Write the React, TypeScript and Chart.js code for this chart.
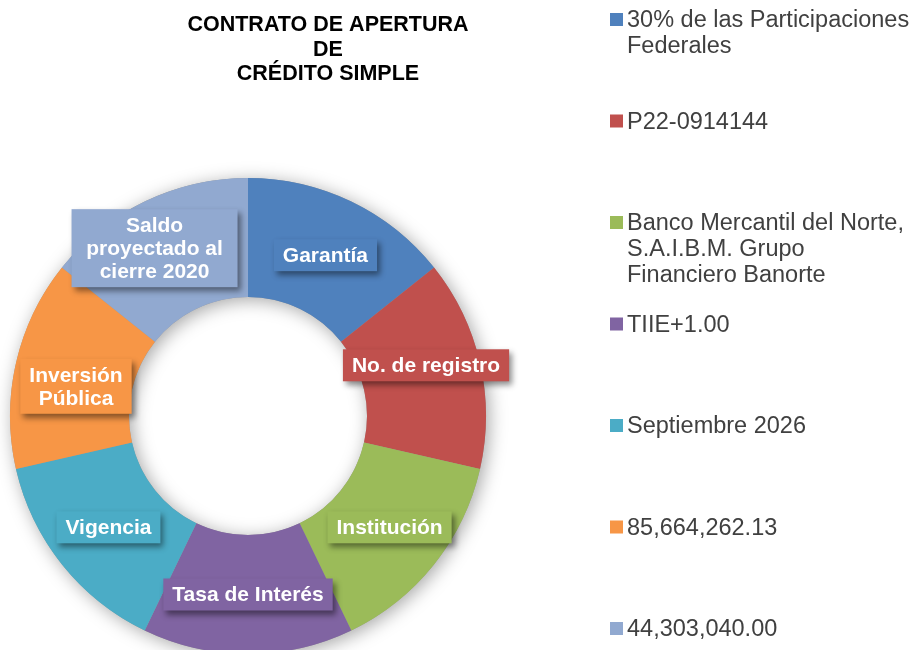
import React, { useEffect, useRef } from "react";
import { Chart, registerables } from "chart.js";

Chart.register(...registerables);

const titleLines = ["CONTRATO DE APERTURA", "DE", "CRÉDITO SIMPLE"];
const sliceLabels: string[][] = [
  ["Garantía"],
  ["No. de registro"],
  ["Institución"],
  ["Tasa de Interés"],
  ["Vigencia"],
  ["Inversión", "Pública"],
  ["Saldo", "proyectado al", "cierre 2020"],
];
const legendTexts: string[][] = [
  ["30% de las Participaciones", "Federales"],
  ["P22-0914144"],
  ["Banco Mercantil del Norte,", "S.A.I.B.M. Grupo", "Financiero Banorte"],
  ["TIIE+1.00"],
  ["Septiembre 2026"],
  ["85,664,262.13"],
  ["44,303,040.00"],
];
const sliceValues = [1, 1, 1, 1, 1, 1, 1];
const sliceColors = ["#4F81BD", "#C0504D", "#9BBB59", "#8064A2", "#4BACC6", "#F79646", "#91A9D0"];

const FONT = "'Liberation Sans', Arial, sans-serif";

// small style nudges of the label boxes relative to the slice centre
const labelNudge: [number, number][] = [[0, 0], [4, -11], [2, 0], [0, 0], [0, 0], [2, 10], [-16, -7]];
const labelMinWidth = [0, 0, 0, 0, 0, 0, 166];

const decorPlugin = {
  id: "decor",
  beforeDatasetsDraw(chart: any) {
    const meta = chart.getDatasetMeta(0);
    const arc = meta.data[0];
    if (!arc) return;
    const { x, y, outerRadius, innerRadius } = arc.getProps(["x", "y", "outerRadius", "innerRadius"], true);
    const ctx = chart.ctx;
    ctx.save();
    ctx.shadowColor = "rgba(0,0,0,0.35)";
    ctx.shadowBlur = 18;
    ctx.shadowOffsetX = 3;
    ctx.shadowOffsetY = 3;
    ctx.beginPath();
    ctx.arc(x, y, outerRadius, 0, Math.PI * 2, false);
    ctx.arc(x, y, innerRadius, 0, Math.PI * 2, true);
    ctx.closePath();
    ctx.fillStyle = "#999";
    ctx.fill();
    ctx.restore();
  },
  afterDatasetsDraw(chart: any) {
    const ctx = chart.ctx;
    const meta = chart.getDatasetMeta(0);
    ctx.save();
    ctx.font = `bold 21px ${FONT}`;
    ctx.textAlign = "center";
    ctx.textBaseline = "middle";
    const lineH = 23;
    meta.data.forEach((el: any, i: number) => {
      const c = el.getCenterPoint();
      const px = c.x + labelNudge[i][0];
      const py = c.y + labelNudge[i][1];
      const lines = sliceLabels[i];
      const w = Math.max(labelMinWidth[i], Math.max(...lines.map((l) => ctx.measureText(l).width)) + 18);
      const h = lines.length * lineH + 9;
      const bx = px - w / 2;
      const by = py - h / 2;
      ctx.save();
      ctx.shadowColor = "rgba(0,0,0,0.45)";
      ctx.shadowBlur = 6;
      ctx.shadowOffsetX = 3;
      ctx.shadowOffsetY = 4;
      ctx.fillStyle = sliceColors[i];
      ctx.fillRect(bx, by, w, h);
      ctx.restore();
      ctx.fillStyle = "#FFFFFF";
      lines.forEach((l, k) => {
        ctx.fillText(l, px, by + 4.5 + lineH * k + lineH / 2 + 1);
      });
    });
    ctx.restore();
  },
  afterDraw(chart: any) {
    const ctx = chart.ctx;
    ctx.save();
    ctx.font = `bold 21.5px ${FONT}`;
    ctx.fillStyle = "#000000";
    ctx.textAlign = "center";
    ctx.textBaseline = "alphabetic";
    titleLines.forEach((t, k) => {
      ctx.fillText(t, 328, 31 + k * 24.5);
    });
    ctx.font = `23.5px ${FONT}`;
    ctx.textAlign = "left";
    legendTexts.forEach((lines, i) => {
      const base = 27 + i * 101.5;
      ctx.fillStyle = sliceColors[i];
      ctx.fillRect(610, base - 14, 13, 13);
      ctx.fillStyle = "#404040";
      lines.forEach((l, k) => {
        ctx.fillText(l, 627, base + k * 26);
      });
    });
    ctx.restore();
  },
};

export default function App() {
  const ref = useRef<HTMLCanvasElement | null>(null);
  useEffect(() => {
    if (!ref.current) return;
    const chart = new Chart(ref.current, {
      type: "doughnut",
      data: {
        labels: sliceLabels.map((l) => l.join(" ")),
        datasets: [
          {
            data: sliceValues,
            backgroundColor: sliceColors,
            borderWidth: 0,
          },
        ],
      },
      options: {
        responsive: false,
        animation: false,
        cutout: "50%",
        layout: { padding: { left: 10, right: 428, top: 178, bottom: 6 } },
        plugins: {
          legend: { display: false },
          tooltip: { enabled: false },
          title: { display: false },
        },
      },
      plugins: [decorPlugin],
    });
    return () => chart.destroy();
  }, []);
  return (
    <div style={{ position: "absolute", left: 0, top: 0, width: 914, height: 650, overflow: "hidden", background: "#fff" }}>
      <canvas ref={ref} width={914} height={660} style={{ display: "block", width: 914, height: 660 }} />
    </div>
  );
}
